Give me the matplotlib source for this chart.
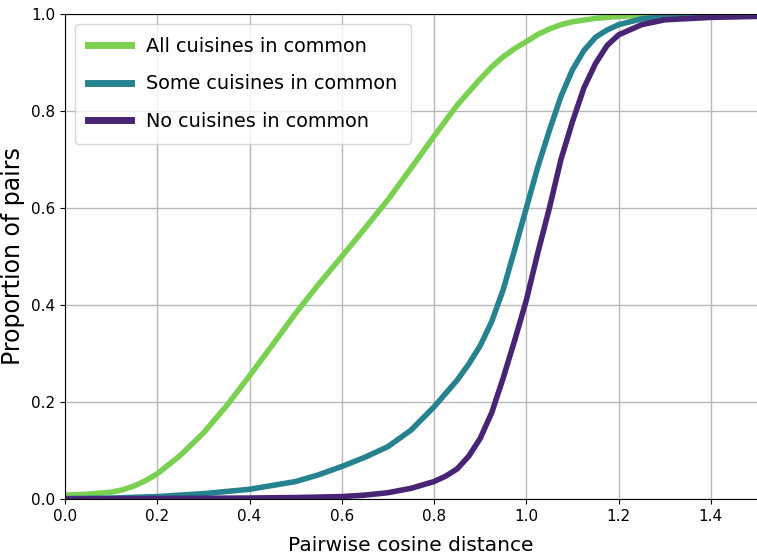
import matplotlib
matplotlib.use("Agg")
import matplotlib.pyplot as plt

# ---- data ----
all_x = [0.0, 0.05, 0.1, 0.125, 0.15, 0.175, 0.2, 0.25, 0.3, 0.35, 0.4, 0.45, 0.5, 0.55,
         0.6, 0.65, 0.7, 0.75, 0.8, 0.85, 0.9, 0.925, 0.95, 0.975, 1.0, 1.025, 1.05,
         1.075, 1.1, 1.15, 1.2, 1.25, 1.3, 1.4, 1.5]
all_y = [0.008, 0.010, 0.014, 0.019, 0.027, 0.038, 0.052, 0.090, 0.136, 0.192, 0.254,
         0.318, 0.383, 0.443, 0.500, 0.558, 0.617, 0.682, 0.748, 0.812, 0.866, 0.891,
         0.912, 0.929, 0.943, 0.958, 0.969, 0.978, 0.984, 0.991, 0.995, 0.997, 0.998,
         0.998, 0.998]

some_x = [0.0, 0.1, 0.2, 0.3, 0.4, 0.5, 0.55, 0.6, 0.65, 0.7, 0.75, 0.8, 0.85, 0.875,
          0.9, 0.925, 0.95, 0.975, 1.0, 1.025, 1.05, 1.075, 1.1, 1.125, 1.15, 1.175,
          1.2, 1.25, 1.3, 1.4, 1.5]
some_y = [0.001, 0.002, 0.005, 0.011, 0.020, 0.036, 0.050, 0.067, 0.086, 0.108, 0.142,
          0.190, 0.245, 0.278, 0.316, 0.366, 0.432, 0.515, 0.600, 0.685, 0.760, 0.830,
          0.885, 0.925, 0.952, 0.967, 0.978, 0.990, 0.995, 0.997, 0.997]

none_x = [0.0, 0.2, 0.4, 0.5, 0.6, 0.65, 0.7, 0.75, 0.8, 0.825, 0.85, 0.875, 0.9, 0.925,
          0.95, 0.975, 1.0, 1.025, 1.05, 1.075, 1.1, 1.125, 1.15, 1.175, 1.2, 1.25,
          1.3, 1.4, 1.5]
none_y = [0.000, 0.001, 0.002, 0.003, 0.005, 0.008, 0.013, 0.022, 0.036, 0.047, 0.062,
          0.088, 0.125, 0.178, 0.250, 0.328, 0.410, 0.508, 0.600, 0.700, 0.778, 0.848,
          0.898, 0.935, 0.957, 0.978, 0.988, 0.993, 0.995]

labels = ["All cuisines in common", "Some cuisines in common", "No cuisines in common"]
colors = ["#7ad151", "#26828e", "#482475"]

x_ticks = [0.0, 0.2, 0.4, 0.6, 0.8, 1.0, 1.2, 1.4]
y_ticks = [0.0, 0.2, 0.4, 0.6, 0.8, 1.0]

plt.rcParams["font.family"] = ["DejaVu Sans"]

fig = plt.figure(figsize=(7.57, 5.57), dpi=100)
ax = fig.add_axes([65 / 757, 1 - 499 / 557, 692 / 757, 485 / 557])

for xs, ys, lab, col in zip([all_x, some_x, none_x], [all_y, some_y, none_y], labels, colors):
    ax.plot(xs, ys, color=col, lw=4, label=lab, solid_joinstyle="round")

ax.set_xlim(0, 1.5)
ax.set_ylim(0, 1.0)
ax.set_xticks(x_ticks)
ax.set_yticks(y_ticks)
ax.set_xticklabels([f"{v:.1f}" for v in x_ticks])
ax.set_yticklabels([f"{v:.1f}" for v in y_ticks])
ax.tick_params(labelsize=11)
ax.grid(True, color="#b8b8b8", lw=1)
ax.set_axisbelow(True)
ax.spines["right"].set_visible(False)

ax.set_xlabel("Pairwise cosine distance", fontsize=14.5, labelpad=9)
ax.set_ylabel("Proportion of pairs", fontsize=17)

leg = ax.legend(loc="upper left", fontsize=13.9, labelspacing=0.97, handlelength=2.25,
                borderpad=0.67, framealpha=0.8)
for h in leg.get_lines():
    h.set_linewidth(5)

fig.savefig("out.png", dpi=100)
